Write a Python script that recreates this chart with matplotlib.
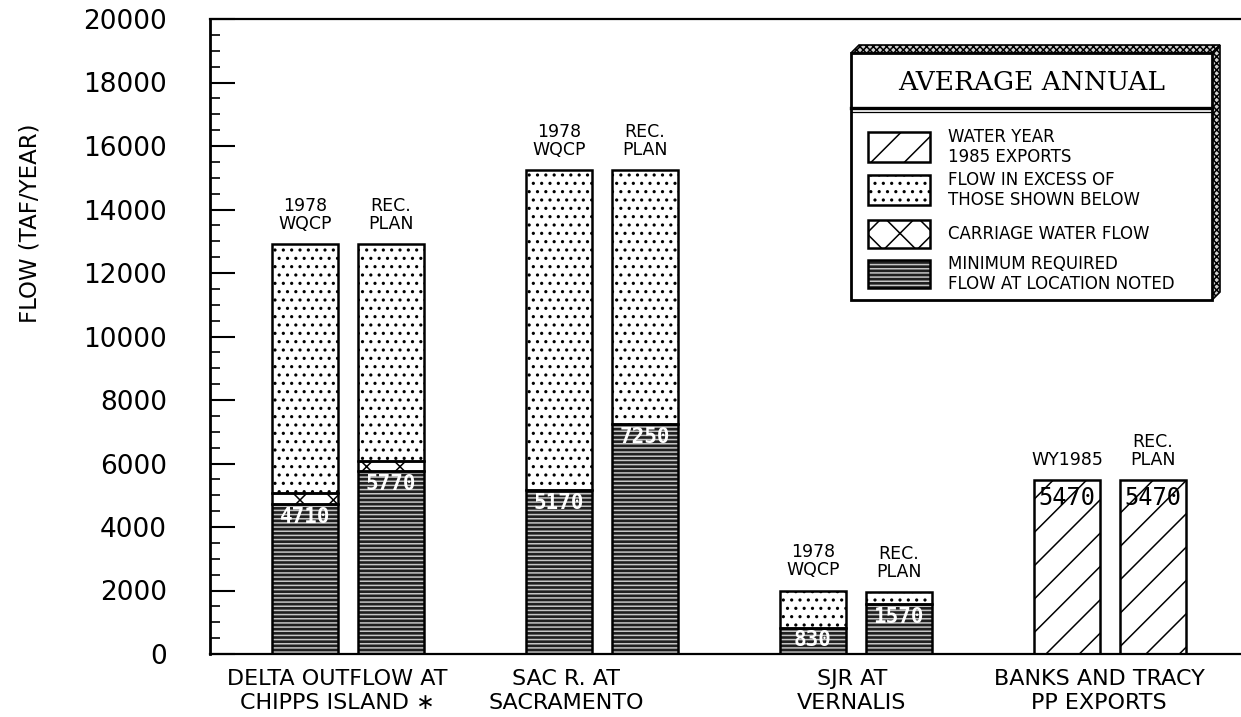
import matplotlib
matplotlib.use('Agg')
import matplotlib.pyplot as plt
from matplotlib.patches import Rectangle, Polygon
import numpy as np

# ---------------- data ----------------
groups = ['DELTA OUTFLOW AT\nCHIPPS ISLAND \u2217', 'SAC R. AT\nSACRAMENTO',
          'SJR AT\nVERNALIS', 'BANKS AND TRACY\nPP EXPORTS']
bar_labels_1 = ['1978\nWQCP', '1978\nWQCP', '1978\nWQCP', 'WY1985']
bar_labels_2 = ['REC.\nPLAN', 'REC.\nPLAN', 'REC.\nPLAN', 'REC.\nPLAN']

min_required_1 = [4710, 5170, 830, 0]
min_required_2 = [5770, 7250, 1570, 0]
carriage_1 = [350, 0, 0, 0]
carriage_2 = [300, 0, 0, 0]
total_flow_1 = [12900, 15250, 2000, 0]
total_flow_2 = [12900, 15250, 1950, 0]
exports_1 = [0, 0, 0, 5470]
exports_2 = [0, 0, 0, 5470]

yticks = list(range(0, 20001, 2000))

legend_items = ['WATER YEAR\n1985 EXPORTS', 'FLOW IN EXCESS OF\nTHOSE SHOWN BELOW',
                'CARRIAGE WATER FLOW', 'MINIMUM REQUIRED\nFLOW AT LOCATION NOTED']
legend_title = 'AVERAGE ANNUAL'

# ---------------- styles ----------------
plt.rcParams['font.family'] = ['DejaVu Sans']
plt.rcParams['hatch.linewidth'] = 1.1

MIN_FACE, MIN_HATCH, MIN_PAT = '#1f1f1f', '#c4c4c4', '----'
CAR_PAT = 'x'
EXC_PAT = '..'
EXP_PAT = '/'

fig = plt.figure(figsize=(12.41, 7.17), dpi=100)
W, H = 1241, 717
ax = fig.add_axes([210 / W, 1 - 654 / H, 1 - 210 / W, (654 - 19) / H])

x = np.arange(len(groups))
off, bw = 0.169, 0.26


def seg(xs, heights, bottoms, fc, ec, hatch):
    heights = np.asarray(heights, float)
    m = heights > 0
    if not m.any():
        return
    ax.bar(xs[m], heights[m], bw, bottom=np.asarray(bottoms, float)[m],
           color=fc, edgecolor=ec, hatch=hatch, linewidth=0, zorder=2)
    ax.bar(xs[m], heights[m], bw, bottom=np.asarray(bottoms, float)[m],
           fill=False, edgecolor='black', linewidth=1.8, zorder=3)


def draw_series(xs, mins, carr, tot, exps, labels):
    mins = np.asarray(mins, float)
    carr = np.asarray(carr, float)
    tot = np.asarray(tot, float)
    exps = np.asarray(exps, float)
    excess = np.where(tot > 0, tot - mins - carr, 0)
    seg(xs, mins, np.zeros_like(mins), MIN_FACE, MIN_HATCH, MIN_PAT)
    seg(xs, carr, mins, 'white', 'black', CAR_PAT)
    seg(xs, excess, mins + carr, 'white', 'black', EXC_PAT)
    seg(xs, exps, np.zeros_like(exps), 'white', 'black', EXP_PAT)
    for i in range(len(xs)):
        if mins[i] > 0:
            ax.annotate(f'{int(mins[i])}', (xs[i], mins[i]), xytext=(0, -2),
                        textcoords='offset points', ha='center', va='top',
                        color='white', fontweight='bold', family='DejaVu Sans Mono',
                        fontsize=15, zorder=4)
        if exps[i] > 0:
            ax.annotate(f'{int(exps[i])}', (xs[i], exps[i]), xytext=(0, -4),
                        textcoords='offset points', ha='center', va='top',
                        color='black', family='DejaVu Sans Mono',
                        fontsize=17, zorder=4)
        top = max(tot[i], exps[i])
        ax.annotate(labels[i], (xs[i], top), xytext=(0, 8),
                    textcoords='offset points', ha='center', va='bottom',
                    fontsize=12.5, linespacing=1.0, zorder=4)


draw_series(x - off, min_required_1, carriage_1, total_flow_1, exports_1, bar_labels_1)
draw_series(x + off, min_required_2, carriage_2, total_flow_2, exports_2, bar_labels_2)

ax.set_xlim(-0.543, 3.516)
ax.set_ylim(0, 20000)
ax.set_yticks(yticks)
ax.set_yticklabels([str(v) for v in yticks])
ax.set_yticks(np.arange(0, 20001, 500), minor=True)
ax.tick_params(axis='y', which='major', direction='in', length=18, width=1.5,
               labelsize=19, pad=31)
ax.tick_params(axis='y', which='minor', direction='in', length=7, width=1.2)
label_shift = [-0.043, -0.142, -0.016, -0.043]
ax.set_xticks(x + np.array(label_shift))
ax.set_xticklabels(groups, fontsize=16, linespacing=1.25)
ax.tick_params(axis='x', length=0, pad=11)
ax.spines['right'].set_visible(False)
ax.spines['left'].set_linewidth(2)
ax.spines['bottom'].set_linewidth(1.6)
ax.spines['top'].set_linewidth(1.6)

fig.text(30 / W, 1 - 223 / H, 'FLOW (TAF/YEAR)', rotation=90, ha='center',
         va='center', fontsize=16.5)

# ---------------- legend (drawn in figure pixel space) ----------------
lax = fig.add_axes([0, 0, 1, 1], zorder=5)
lax.set_xlim(0, W)
lax.set_ylim(H, 0)
lax.axis('off')

L, T, R, B = 851, 53, 1212, 300
d = 8
lax.add_patch(Polygon([(L, T), (L + d, T - d), (R + d, T - d), (R, T)], closed=True,
                      facecolor='#d0d0d0', edgecolor='black', hatch='xxxxx', linewidth=1.2))
lax.add_patch(Polygon([(R, T), (R + d, T - d), (R + d, B - d), (R, B)], closed=True,
                      facecolor='#d0d0d0', edgecolor='black', hatch='xxxxx', linewidth=1.2))
lax.add_patch(Rectangle((L, T), R - L, B - T, facecolor='white', edgecolor='black',
                        linewidth=2))
lax.plot([L, R], [108, 108], color='black', lw=2.4)
lax.plot([L, R], [112, 112], color='black', lw=0.9)
lax.text((L + R) / 2, 83, legend_title, family='DejaVu Serif', fontsize=19,
         ha='center', va='center')

sw_x, sw_w = 868, 62
rows = [(132, 162), (175, 205), (220, 248), (260, 288)]
pats = [('white', 'black', EXP_PAT), ('white', 'black', EXC_PAT),
        ('white', 'black', CAR_PAT), (MIN_FACE, MIN_HATCH, MIN_PAT)]
for (y0, y1), (fc, hc, pat), txt in zip(rows, pats, legend_items):
    lax.add_patch(Rectangle((sw_x, y0), sw_w, y1 - y0, facecolor=fc, edgecolor=hc,
                            hatch=pat, linewidth=0))
    lax.add_patch(Rectangle((sw_x, y0), sw_w, y1 - y0, fill=False, edgecolor='black',
                            linewidth=1.8))
    lax.text(948, (y0 + y1) / 2, txt, fontsize=12, ha='left', va='center',
             linespacing=1.2)

fig.savefig('out.png', dpi=100)
